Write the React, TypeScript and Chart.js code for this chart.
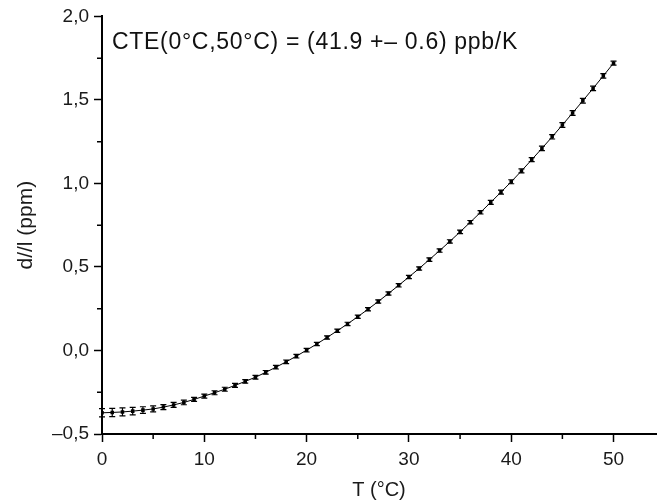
import React, { useEffect, useRef } from 'react';
import { Chart, registerables } from 'chart.js';

Chart.register(...registerables);

const temperatures = [
  0, 1, 2, 3, 4, 5, 6, 7, 8, 9, 10, 11, 12, 13, 14, 15, 16, 17, 18, 19, 20,
  21, 22, 23, 24, 25, 26, 27, 28, 29, 30, 31, 32, 33, 34, 35, 36, 37, 38, 39, 40,
  41, 42, 43, 44, 45, 46, 47, 48, 49, 50,
];
const strain = [
  -0.373, -0.371, -0.368, -0.363, -0.357, -0.35, -0.339, -0.326, -0.311, -0.293, -0.273,
  -0.253, -0.232, -0.209, -0.185, -0.16, -0.131, -0.1, -0.068, -0.034, 0.002,
  0.039, 0.078, 0.118, 0.159, 0.202, 0.247, 0.293, 0.341, 0.39, 0.44,
  0.491, 0.544, 0.598, 0.653, 0.71, 0.768, 0.827, 0.887, 0.948, 1.01,
  1.075, 1.142, 1.21, 1.279, 1.35, 1.422, 1.495, 1.569, 1.644, 1.72,
];
const strainErrors = [
  0.025, 0.025, 0.024, 0.022, 0.02, 0.018, 0.015, 0.015, 0.014, 0.012, 0.012,
  0.012, 0.012, 0.012, 0.011, 0.011, 0.011, 0.011, 0.011, 0.011, 0.011,
  0.01, 0.01, 0.01, 0.01, 0.01, 0.01, 0.01, 0.01, 0.01, 0.01,
  0.01, 0.01, 0.01, 0.01, 0.01, 0.01, 0.01, 0.012, 0.012, 0.012,
  0.012, 0.012, 0.013, 0.013, 0.014, 0.014, 0.014, 0.013, 0.013, 0.012,
];

const xTickValues = [0, 10, 20, 30, 40, 50];
const xMinorTickValues = [5, 15, 25, 35, 45];
const yTickValues = [-0.5, 0, 0.5, 1, 1.5, 2];
const yTickLabels = ['–0,5', '0,0', '0,5', '1,0', '1,5', '2,0'];
const yMinorTickValues = [-0.25, 0.25, 0.75, 1.25, 1.75];

const annotationText = 'CTE(0°C,50°C) = (41.9 +– 0.6) ppb/K';
const xTitle = 'T (°C)';
const yTitle = 'd//l (ppm)';

const FONT = "'Liberation Sans', Arial, sans-serif";

const extrasPlugin = {
  id: 'extras',
  afterDatasetsDraw(chart: any) {
    const ctx = chart.ctx;
    const xs = chart.scales.x;
    const ys = chart.scales.y;
    ctx.save();
    ctx.strokeStyle = '#000';
    ctx.lineWidth = 1.2;
    for (let i = 0; i < temperatures.length; i++) {
      const px = xs.getPixelForValue(temperatures[i]);
      const top = ys.getPixelForValue(strain[i] + strainErrors[i]);
      const bot = ys.getPixelForValue(strain[i] - strainErrors[i]);
      ctx.beginPath();
      ctx.moveTo(px, top);
      ctx.lineTo(px, bot);
      ctx.moveTo(px - 3, top);
      ctx.lineTo(px + 3, top);
      ctx.moveTo(px - 3, bot);
      ctx.lineTo(px + 3, bot);
      ctx.stroke();
    }
    ctx.restore();
  },
  afterDraw(chart: any) {
    const ctx = chart.ctx;
    const xs = chart.scales.x;
    const ys = chart.scales.y;
    const area = chart.chartArea;
    ctx.save();
    ctx.strokeStyle = '#000';
    ctx.lineWidth = 1.5;
    ctx.beginPath();
    for (const v of xMinorTickValues) {
      const px = xs.getPixelForValue(v);
      ctx.moveTo(px, area.bottom);
      ctx.lineTo(px, area.bottom + 5);
    }
    for (const v of yMinorTickValues) {
      const py = ys.getPixelForValue(v);
      ctx.moveTo(area.left, py);
      ctx.lineTo(area.left - 5, py);
    }
    ctx.stroke();
    ctx.fillStyle = '#111';
    ctx.font = `23px ${FONT}`;
    (ctx as any).letterSpacing = '0.7px';
    ctx.textBaseline = 'alphabetic';
    ctx.textAlign = 'left';
    ctx.fillText(annotationText, area.left + 10, 48.5);
    ctx.restore();
  },
};

export default function App() {
  const canvasRef = useRef<HTMLCanvasElement | null>(null);

  useEffect(() => {
    if (!canvasRef.current) return;
    const chart = new Chart(canvasRef.current, {
      type: 'line',
      data: {
        datasets: [
          {
            data: temperatures.map((t, i) => ({ x: t, y: strain[i] })),
            borderColor: '#000',
            backgroundColor: '#000',
            borderWidth: 1,
            pointRadius: 2.5,
            pointStyle: 'rect',
            pointBorderWidth: 0,
            tension: 0,
          },
        ],
      },
      options: {
        animation: false,
        responsive: true,
        maintainAspectRatio: false,
        layout: { padding: { top: 16, left: 0, right: 0, bottom: 0 } },
        plugins: {
          legend: { display: false },
          tooltip: { enabled: false },
          title: { display: false },
        },
        scales: {
          x: {
            type: 'linear',
            min: 0,
            max: 54.15,
            afterBuildTicks: (s: any) => {
              s.ticks = xTickValues.map((v) => ({ value: v }));
            },
            afterFit: (s: any) => {
              s.height = 70;
            },
            grid: {
              drawOnChartArea: false,
              drawTicks: true,
              tickLength: 8,
              tickWidth: 1.5,
              tickColor: '#000',
            },
            border: { color: '#000', width: 2 },
            ticks: {
              color: '#1a1a1a',
              font: { family: FONT, size: 19 },
              padding: 6,
              maxRotation: 0,
            },
            title: {
              display: true,
              text: xTitle,
              color: '#1a1a1a',
              font: { family: FONT, size: 20 },
              padding: { top: 0, bottom: 2 },
            },
          },
          y: {
            type: 'linear',
            min: -0.5,
            max: 2,
            afterBuildTicks: (s: any) => {
              s.ticks = yTickValues.map((v) => ({ value: v }));
            },
            afterFit: (s: any) => {
              s.width = 102;
            },
            grid: {
              drawOnChartArea: false,
              drawTicks: true,
              tickLength: 8,
              tickWidth: 1.5,
              tickColor: '#000',
            },
            border: { color: '#000', width: 2 },
            ticks: {
              color: '#1a1a1a',
              font: { family: FONT, size: 19 },
              padding: 5,
              callback: (v: any) => yTickLabels[yTickValues.indexOf(Number(v))],
            },
            title: {
              display: true,
              text: yTitle,
              color: '#1a1a1a',
              font: { family: FONT, size: 21 },
              padding: { top: 14, bottom: 0 },
            },
          },
        },
      },
      plugins: [extrasPlugin],
    } as any);
    return () => chart.destroy();
  }, []);

  return (
    <div style={{ position: 'fixed', left: 0, top: 0, width: 660, height: 504, background: '#fff' }}>
      <canvas ref={canvasRef} />
    </div>
  );
}
